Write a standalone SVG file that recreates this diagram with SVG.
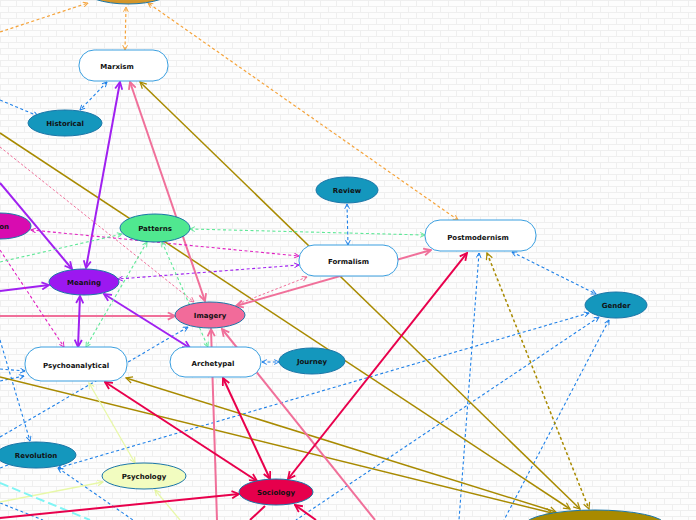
<svg xmlns="http://www.w3.org/2000/svg" width="696" height="520" viewBox="0 0 696 520">
<defs>
<pattern id="brick" width="16" height="12" patternUnits="userSpaceOnUse">
<rect width="16" height="12" fill="#fdfdfd"/>
<path d="M0,0.5 H16 M0,6.5 H16 M0.5,0 V6 M8.5,6 V12" stroke="#efefef" stroke-width="1" fill="none"/>
</pattern>
<marker id="m-orange" viewBox="0 0 10 10" refX="9" refY="5" markerWidth="6" markerHeight="6" markerUnits="userSpaceOnUse" orient="auto-start-reverse"><path d="M1,1 L9,5 L1,9" fill="none" stroke="#f5a33a" stroke-width="1.6"/></marker>
<marker id="m-blue" viewBox="0 0 10 10" refX="9" refY="5" markerWidth="6" markerHeight="6" markerUnits="userSpaceOnUse" orient="auto-start-reverse"><path d="M1,1 L9,5 L1,9" fill="none" stroke="#1e80e8" stroke-width="1.6"/></marker>
<marker id="m-olive" viewBox="0 0 10 10" refX="9" refY="5" markerWidth="8" markerHeight="8" markerUnits="userSpaceOnUse" orient="auto-start-reverse"><path d="M1,1 L9,5 L1,9" fill="none" stroke="#a88a00" stroke-width="1.5"/></marker>
<marker id="m-pink" viewBox="0 0 10 10" refX="9" refY="5" markerWidth="9" markerHeight="9" markerUnits="userSpaceOnUse" orient="auto-start-reverse"><path d="M1,1 L9,5 L1,9" fill="none" stroke="#f0709a" stroke-width="2"/></marker>
<marker id="m-pinks" viewBox="0 0 10 10" refX="9" refY="5" markerWidth="6" markerHeight="6" markerUnits="userSpaceOnUse" orient="auto-start-reverse"><path d="M1,1 L9,5 L1,9" fill="none" stroke="#f0709a" stroke-width="1.6"/></marker>
<marker id="m-purple" viewBox="0 0 10 10" refX="9" refY="5" markerWidth="9" markerHeight="9" markerUnits="userSpaceOnUse" orient="auto-start-reverse"><path d="M1,1 L9,5 L1,9" fill="none" stroke="#a020f0" stroke-width="2"/></marker>
<marker id="m-purples" viewBox="0 0 10 10" refX="9" refY="5" markerWidth="6" markerHeight="6" markerUnits="userSpaceOnUse" orient="auto-start-reverse"><path d="M1,1 L9,5 L1,9" fill="none" stroke="#a020f0" stroke-width="1.6"/></marker>
<marker id="m-magenta" viewBox="0 0 10 10" refX="9" refY="5" markerWidth="6" markerHeight="6" markerUnits="userSpaceOnUse" orient="auto-start-reverse"><path d="M1,1 L9,5 L1,9" fill="none" stroke="#e020c0" stroke-width="1.6"/></marker>
<marker id="m-green" viewBox="0 0 10 10" refX="9" refY="5" markerWidth="6" markerHeight="6" markerUnits="userSpaceOnUse" orient="auto-start-reverse"><path d="M1,1 L9,5 L1,9" fill="none" stroke="#60e898" stroke-width="1.6"/></marker>
<marker id="m-yellow" viewBox="0 0 10 10" refX="9" refY="5" markerWidth="7" markerHeight="7" markerUnits="userSpaceOnUse" orient="auto-start-reverse"><path d="M1,1 L9,5 L1,9" fill="none" stroke="#e4f4a0" stroke-width="1.6"/></marker>
<marker id="m-crimson" viewBox="0 0 10 10" refX="9" refY="5" markerWidth="9" markerHeight="9" markerUnits="userSpaceOnUse" orient="auto-start-reverse"><path d="M1,1 L9,5 L1,9" fill="none" stroke="#e8004c" stroke-width="2"/></marker>
</defs>
<style>
.c{fill:none}
.orange{stroke:#f5a33a;stroke-width:1.2;stroke-dasharray:3 2.5}
.blue{stroke:#1e80e8;stroke-width:1.1;stroke-dasharray:3 2.5}
.olive{stroke:#a88a00;stroke-width:1.5}
.olived{stroke:#a88a00;stroke-width:1.5;stroke-dasharray:3 2.5}
.pink{stroke:#f0709a;stroke-width:2}
.pinkd{stroke:#f0709a;stroke-width:1;stroke-dasharray:2.5 2}
.purple{stroke:#a020f0;stroke-width:2}
.purpled{stroke:#a020f0;stroke-width:1.1;stroke-dasharray:3 2.5}
.magenta{stroke:#e020c0;stroke-width:1.1;stroke-dasharray:3 2.5}
.green{stroke:#60e898;stroke-width:1.1;stroke-dasharray:3 2.5}
.yellow{stroke:#e8f8a8;stroke-width:1.3}
.cyan{stroke:#80f4f4;stroke-width:2;stroke-dasharray:9 4}
.crimson{stroke:#e8004c;stroke-width:2}
.ell{stroke:#1b76a8;stroke-width:1}
.box{fill:#ffffff;stroke:#3a9fe0;stroke-width:1}
text{font-family:"DejaVu Sans","Liberation Sans",sans-serif;font-weight:bold;font-size:7px;fill:#111111;text-anchor:middle}
</style>
<rect width="696" height="520" fill="url(#brick)"/>
<g id="connectors" class="c">
<path class="orange" d="M0,32 L88,3" marker-end="url(#m-orange)"/>
<path class="orange" d="M125,50 L126,7" marker-start="url(#m-orange)" marker-end="url(#m-orange)"/>
<path class="orange" d="M458,220 L148,3" marker-start="url(#m-orange)" marker-end="url(#m-orange)"/>
<path class="blue" d="M107,82 L80,110" marker-start="url(#m-blue)" marker-end="url(#m-blue)"/>
<path class="blue" d="M0,100 L38,116" marker-end="url(#m-blue)"/>
<path class="blue" d="M347,204 L348,245" marker-start="url(#m-blue)" marker-end="url(#m-blue)"/>
<path class="blue" d="M512,252 L596,294" marker-start="url(#m-blue)" marker-end="url(#m-blue)"/>
<path class="blue" d="M589,313 L58,468" marker-start="url(#m-blue)" marker-end="url(#m-blue)"/>
<path class="blue" d="M599,317 L296,520" marker-start="url(#m-blue)"/>
<path class="blue" d="M609,320 L504,520" marker-start="url(#m-blue)"/>
<path class="blue" d="M479,253 L459,520" marker-start="url(#m-blue)"/>
<path class="blue" d="M0,437 L188,327" marker-end="url(#m-blue)"/>
<path class="blue" d="M0,369 L25,371" marker-end="url(#m-blue)"/>
<path class="blue" d="M0,381 L24,376" marker-end="url(#m-blue)"/>
<path class="blue" d="M0,340 L30,441" marker-end="url(#m-blue)"/>
<path class="blue" d="M58,468 L133,520" marker-start="url(#m-blue)"/>
<path class="blue" d="M0,468 L18,461"/>
<path class="blue" d="M0,503 L43,520"/>
<path class="blue" d="M262,362 L279,362" marker-start="url(#m-blue)" marker-end="url(#m-blue)"/>
<path class="olive" d="M140,82 L580,509" marker-start="url(#m-olive)" marker-end="url(#m-olive)"/>
<path class="olive" d="M0,133 L570,509" marker-end="url(#m-olive)"/>
<path class="olive" d="M126,378 L556,512" marker-start="url(#m-olive)" marker-end="url(#m-olive)"/>
<path class="olive" d="M0,377 L552,513" marker-end="url(#m-olive)"/>
<path class="olived" d="M487,253 L589,509" marker-start="url(#m-olive)" marker-end="url(#m-olive)"/>
<path class="pink" d="M130,82 L205,301" marker-start="url(#m-pink)" marker-end="url(#m-pink)"/>
<path class="pink" d="M236,306 L431,250" marker-start="url(#m-pink)" marker-end="url(#m-pink)"/>
<path class="pink" d="M0,316 L175,316" marker-end="url(#m-pink)"/>
<path class="pink" d="M211,329 L217,520" marker-start="url(#m-pink)"/>
<path class="pink" d="M222,329 L375,520" marker-start="url(#m-pink)"/>
<path class="pinkd" d="M307,277 L238,304" marker-start="url(#m-pinks)" marker-end="url(#m-pinks)"/>
<path class="pinkd" d="M0,147 L194,302" marker-end="url(#m-pinks)"/>
<path class="purple" d="M120,82 L86,268" marker-start="url(#m-purple)" marker-end="url(#m-purple)"/>
<path class="purple" d="M0,183 L72,269" marker-end="url(#m-purple)"/>
<path class="purple" d="M0,291 L49,285" marker-end="url(#m-purple)"/>
<path class="purple" d="M80,296 L78,347" marker-start="url(#m-purple)" marker-end="url(#m-purple)"/>
<path class="purple" d="M104,294 L190,348" marker-start="url(#m-purple)" marker-end="url(#m-purple)"/>
<path class="purpled" d="M299,265 L118,279" marker-start="url(#m-purples)" marker-end="url(#m-purples)"/>
<path class="magenta" d="M31,230 L299,256" marker-start="url(#m-magenta)" marker-end="url(#m-magenta)"/>
<path class="magenta" d="M0,250 L64,347" marker-end="url(#m-magenta)"/>
<path class="green" d="M190,229 L425,235" marker-start="url(#m-green)" marker-end="url(#m-green)"/>
<path class="green" d="M0,262 L122,234" marker-end="url(#m-green)"/>
<path class="green" d="M147,242 L86,347" marker-start="url(#m-green)" marker-end="url(#m-green)"/>
<path class="green" d="M162,242 L208,347" marker-start="url(#m-green)" marker-end="url(#m-green)"/>
<path class="yellow" d="M89,383 L135,463" marker-start="url(#m-yellow)" marker-end="url(#m-yellow)"/>
<path class="yellow" d="M0,502 L103,482" marker-end="url(#m-yellow)"/>
<path class="yellow" d="M155,490 L180,520" marker-start="url(#m-yellow)"/>
<path class="cyan" d="M0,483 L90,520"/>
<path class="crimson" d="M105,382 L257,481" marker-start="url(#m-crimson)" marker-end="url(#m-crimson)"/>
<path class="crimson" d="M223,378 L270,479" marker-start="url(#m-crimson)" marker-end="url(#m-crimson)"/>
<path class="crimson" d="M467,253 L288,479" marker-start="url(#m-crimson)" marker-end="url(#m-crimson)"/>
<path class="crimson" d="M0,518 L239,494" marker-end="url(#m-crimson)"/>
<path class="crimson" d="M265,506 L250,520"/>
<path class="crimson" d="M295,505 L316,520" marker-start="url(#m-crimson)"/>
</g>
<g id="node-top"><ellipse class="ell" cx="128" cy="-12" rx="46" ry="16" fill="#d4962a"/></g>
<g id="node-marxism"><rect class="box" x="79" y="50" width="89" height="31" rx="15"/><text x="117" y="69">Marxism</text></g>
<g id="node-historical"><ellipse class="ell" cx="65" cy="123" rx="37" ry="13" fill="#1497bd"/><text x="65" y="126">Historical</text></g>
<g id="node-review"><ellipse class="ell" cx="347" cy="190" rx="31" ry="13" fill="#1497bd"/><text x="347" y="193">Review</text></g>
<g id="node-formalism"><rect class="box" x="299" y="245" width="99" height="31" rx="15"/><text x="348.5" y="264">Formalism</text></g>
<g id="node-postmodernism"><rect class="box" x="425" y="220" width="111" height="31" rx="15"/><text x="478" y="240">Postmodernism</text></g>
<g id="node-gender"><ellipse class="ell" cx="616" cy="305" rx="31" ry="13" fill="#1497bd"/><text x="616" y="308">Gender</text></g>
<g id="node-patterns"><ellipse class="ell" cx="155" cy="228" rx="35" ry="14" fill="#50e890"/><text x="155" y="231">Patterns</text></g>
<g id="node-on"><ellipse class="ell" cx="0" cy="226" rx="31" ry="13" fill="#d80cb0"/><text x="9" y="229" style="text-anchor:end">on</text></g>
<g id="node-meaning"><ellipse class="ell" cx="84" cy="282" rx="35" ry="13" fill="#9c18f0"/><text x="84" y="285">Meaning</text></g>
<g id="node-imagery"><ellipse class="ell" cx="210" cy="315" rx="35" ry="13" fill="#f26b9a"/><text x="210" y="318">Imagery</text></g>
<g id="node-psychoanalytical"><rect class="box" x="25" y="347" width="102" height="34" rx="16"/><text x="76" y="368">Psychoanalytical</text></g>
<g id="node-archetypal"><rect class="box" x="170" y="347" width="91" height="30" rx="15"/><text x="213" y="366">Archetypal</text></g>
<g id="node-journey"><ellipse class="ell" cx="312" cy="361" rx="33" ry="13" fill="#1497bd"/><text x="312" y="364">Journey</text></g>
<g id="node-revolution"><ellipse class="ell" cx="36" cy="455" rx="40" ry="13" fill="#1497bd"/><text x="36" y="458">Revolution</text></g>
<g id="node-psychology"><ellipse class="ell" cx="144" cy="476" rx="42" ry="13" fill="#f2fcc0"/><text x="144" y="479">Psychology</text></g>
<g id="node-sociology"><ellipse class="ell" cx="276" cy="492" rx="37" ry="13" fill="#e6004c"/><text x="276" y="495">Sociology</text></g>
<g id="node-bottom"><ellipse class="ell" cx="595" cy="525" rx="70" ry="15" fill="#a88a00"/></g>
</svg>
